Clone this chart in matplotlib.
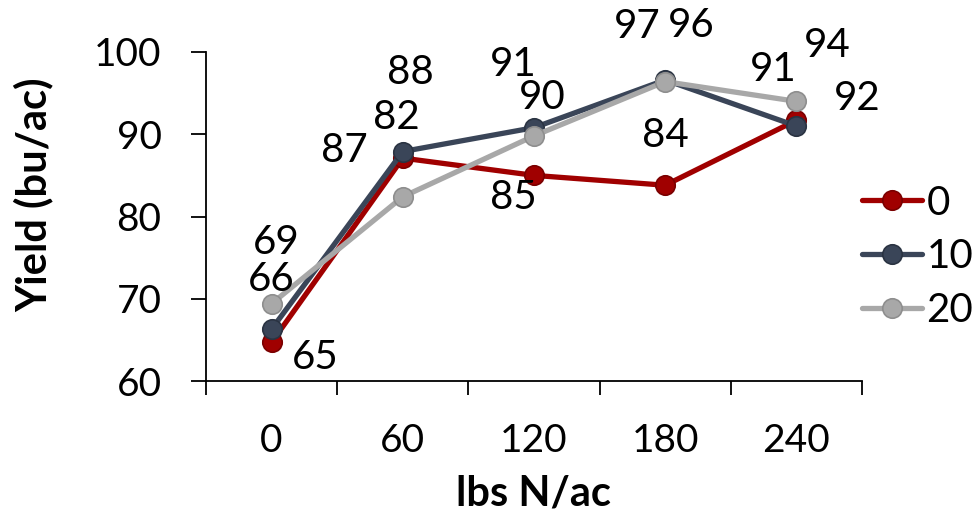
import matplotlib
matplotlib.use("Agg")
import matplotlib.pyplot as plt

plt.rcParams['font.family'] = ['Lato', 'DejaVu Sans']

# data
rates = ['0', '60', '120', '180', '240']
series_names = ['0', '10', '20']
yield_0 = [64.7, 87.1, 85.0, 83.8, 91.7]
yield_10 = [66.3, 87.9, 90.8, 96.6, 91.0]
yield_20 = [69.4, 82.4, 89.8, 96.4, 94.0]

colors = ['#A00000', '#3A4558', '#A8A8A8']
edges = ['#7A0000', '#2A3342', '#8E8E8E']

# label offsets (pixels) relative to each point, as placed in the original
offsets = [
    [(44, -15), (-58, 8), (-21, -22), (0, 50), (61, 22)],
    [(0, 50), (8, 79), (-21, 63), (-28, 53), (-23, 57)],
    [(5, 61), (-6, 79), (8, 38), (26, 56), (31, 56)],
]

fig = plt.figure(figsize=(9.79, 5.17), dpi=100)
ax = fig.add_axes([206/979, 1-381/517, 656/979, 329/517])

x = list(range(len(rates)))
for name, vals, c, ec, offs in zip(series_names, [yield_0, yield_10, yield_20],
                                   colors, edges, offsets):
    ax.plot(x, vals, color=c, lw=3.8, marker='o', ms=14, mfc=c, mec=ec,
            mew=1.2, label=name, solid_capstyle='round')
    for xi, v, (dx, dy) in zip(x, vals, offs):
        ax.annotate(f'{v:.0f}', (xi, v), xytext=(dx*0.72, dy*0.72),
                    textcoords='offset points', ha='center', va='center',
                    fontsize=29, color='black')

ax.set_xlim(-0.5, 4.5)
ax.set_ylim(60, 100)
ax.set_yticks([60, 70, 80, 90, 100])
ax.set_xticks(x)
ax.set_xticklabels(rates)
ax.set_xticks([i - 0.5 for i in range(len(rates) + 1)], minor=True)
ax.tick_params(axis='x', which='major', length=0, pad=30, labelsize=28)
ax.tick_params(axis='x', which='minor', length=10, width=1.3, direction='out')
ax.tick_params(axis='y', length=11, width=1.3, pad=21, labelsize=28)
for s in ['top', 'right']:
    ax.spines[s].set_visible(False)
for s in ['left', 'bottom']:
    ax.spines[s].set_linewidth(1.3)

fig.text(34/979, 1-195/517, 'Yield (bu/ac)', rotation=90, ha='center',
         va='center', fontsize=30, fontweight='bold')
fig.text(534/979, 1-493/517, 'lbs N/ac', ha='center', va='center',
         fontsize=30, fontweight='bold')

ax.legend(loc='center left', bbox_to_anchor=(862/979, 1-257/517),
          bbox_transform=fig.transFigure, frameon=False, fontsize=29,
          handlelength=1.5, handletextpad=0.1, labelspacing=0.42,
          borderpad=0, borderaxespad=0)

fig.savefig('out.png', dpi=100)
